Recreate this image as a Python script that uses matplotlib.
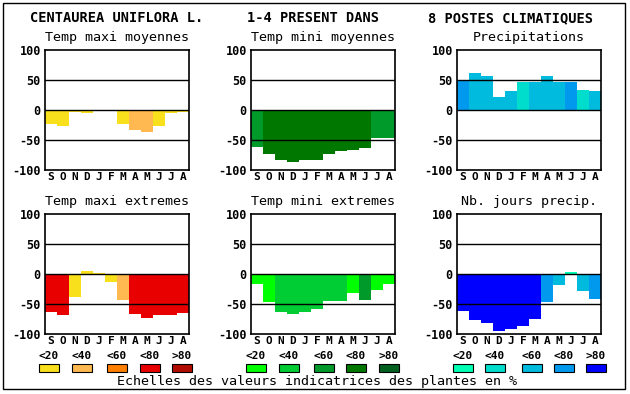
import matplotlib
matplotlib.use('Agg')
import matplotlib.pyplot as plt
from matplotlib.patches import Rectangle

# months (sept -> aout)
months = ['S', 'O', 'N', 'D', 'J', 'F', 'M', 'A', 'M', 'J', 'J', 'A']
scale_labels = ['<20', '<40', '<60', '<80', '>80']

# palettes (one per row of panels family)
temp_max_colors = ['#F8E01C', '#FFB950', '#FF7F00', '#E80000', '#B00C00']
temp_min_colors = ['#00FF00', '#00CC33', '#009A2A', '#007800', '#006020']
precip_colors = ['#00FFB4', '#00DDCC', '#00BBDD', '#0099EE', '#0000FF']

# values, plus class index (0..4) of each bar
tmax_moy = [-23, -27, -4, -5, -2, -2, -23, -34, -37, -26, -5, -4]
tmax_moy_cls = [0, 0, 0, 0, 0, 0, 0, 1, 1, 0, 0, 0]
tmin_moy = [-62, -74, -83, -86, -84, -83, -74, -68, -66, -64, -47, -46]
tmin_moy_cls = [2, 3, 3, 3, 3, 3, 3, 3, 3, 3, 2, 2]
precip = [50, 61, 57, 22, 32, 46, 46, 57, 46, 47, 34, 31]
precip_cls = [3, 2, 2, 2, 2, 1, 2, 2, 2, 3, 1, 2]
tmax_ext = [-64, -68, -38, 5, 2, -13, -44, -66, -73, -68, -68, -65]
tmax_ext_cls = [3, 3, 0, 0, 0, 0, 1, 3, 3, 3, 3, 3]
tmin_ext = [-16, -46, -63, -66, -63, -58, -45, -45, -31, -43, -26, -16]
tmin_ext_cls = [0, 0, 1, 1, 1, 1, 1, 1, 0, 2, 0, 0]
nb_jours = [-61, -76, -81, -95, -91, -86, -75, -46, -18, 3, -28, -41]
nb_jours_cls = [4, 4, 4, 4, 4, 4, 4, 3, 2, 0, 2, 3]

panels = [
    ('Temp maxi moyennes', tmax_moy, tmax_moy_cls, temp_max_colors),
    ('Temp mini moyennes', tmin_moy, tmin_moy_cls, temp_min_colors),
    ('Precipitations', precip, precip_cls, precip_colors),
    ('Temp maxi extremes', tmax_ext, tmax_ext_cls, temp_max_colors),
    ('Temp mini extremes', tmin_ext, tmin_ext_cls, temp_min_colors),
    ('Nb. jours precip.', nb_jours, nb_jours_cls, precip_colors),
]

W, H = 630, 394
MONO = 'DejaVu Sans Mono'


def px_rect(x0, y0, x1, y1):
    return [x0 / W, 1 - y1 / H, (x1 - x0) / W, (y1 - y0) / H]


fig = plt.figure(figsize=(W / 100, H / 100), dpi=100)
fig.patch.set_facecolor('white')

# outer frame
fig.patches.append(Rectangle((3 / W, 1 - 389 / H), 622 / W, 386 / H,
                             transform=fig.transFigure, fill=False,
                             edgecolor='black', linewidth=1.0))

# main title
fig.text(30 / W, 1 - 18 / H, 'CENTAUREA UNIFLORA L.', family=MONO, fontsize=9.8,
         fontweight='bold', va='center', ha='left')
fig.text(247 / W, 1 - 18 / H, '1-4 PRESENT DANS', family=MONO, fontsize=9.8,
         fontweight='bold', va='center', ha='left')
fig.text(428 / W, 1 - 18 / H, '8 POSTES CLIMATIQUES', family=MONO, fontsize=9.8,
         fontweight='bold', va='center', ha='left')

col_x = [45, 251, 457]
row_y = [50, 214]

for i, (title, vals, cls, pal) in enumerate(panels):
    x0 = col_x[i % 3]
    y0 = row_y[i // 3]
    ax = fig.add_axes(px_rect(x0, y0, x0 + 144, y0 + 120))
    ax.bar(range(12), vals, width=1.0, color=[pal[c] for c in cls],
           linewidth=0, zorder=1)
    for yv in (-50, 0, 50):
        ax.axhline(yv, color='black', linewidth=1.0, zorder=3)
    ax.set_xlim(-0.5, 11.5)
    ax.set_ylim(-100, 100)
    ax.set_xticks(range(12))
    ax.set_xticklabels(months, family=MONO, fontweight='bold', fontsize=8)
    ax.set_yticks([-100, -50, 0, 50, 100])
    ax.set_yticklabels(['-100', '-50', '0', '50', '100'], family=MONO,
                       fontweight='bold', fontsize=8.5)
    ax.tick_params(axis='x', length=0, pad=1.5)
    ax.tick_params(axis='y', length=0, pad=3)
    for s in ax.spines.values():
        s.set_linewidth(1.2)
    ax.text(0.5, 1.0 + 12 / 120, title, transform=ax.transAxes, ha='center',
            va='center', family=MONO, fontsize=9.6)

# colour scales under each column
group_boxes = [[39, 72, 107, 140, 172], [246, 279, 314, 346, 379],
               [453, 485, 522, 554, 586]]
group_pals = [temp_max_colors, temp_min_colors, precip_colors]
for xs, pal in zip(group_boxes, group_pals):
    for bx, lab, col in zip(xs, scale_labels, pal):
        fig.patches.append(Rectangle((bx / W, 1 - 372 / H), 20 / W, 8 / H,
                                     transform=fig.transFigure, facecolor=col,
                                     edgecolor='black', linewidth=0.8))
        fig.text((bx + 10) / W, 1 - 356 / H, lab, family=MONO, fontweight='bold',
                 fontsize=8, ha='center', va='center')

fig.text(317 / W, 1 - 382 / H,
         'Echelles des valeurs indicatrices des plantes en %',
         family=MONO, fontsize=9.6, ha='center', va='center')

fig.savefig('out.png', dpi=100)
